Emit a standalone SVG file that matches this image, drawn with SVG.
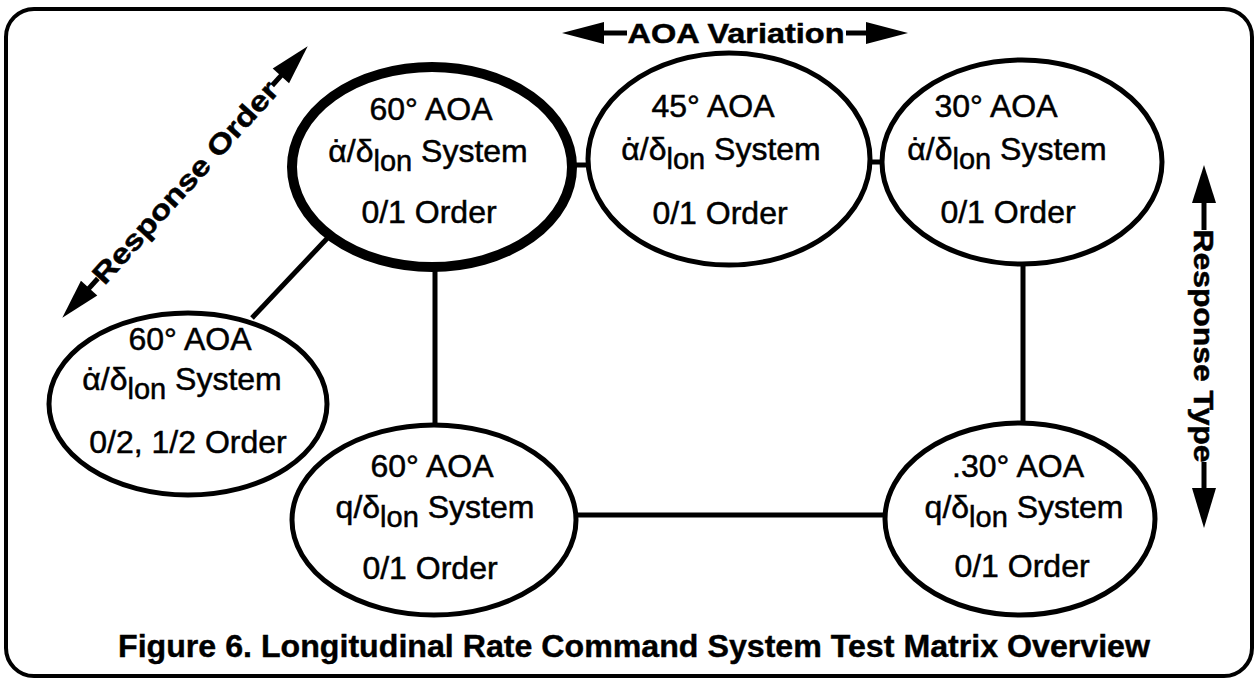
<svg xmlns="http://www.w3.org/2000/svg" width="1256" height="679" viewBox="0 0 1256 679">
<style>
.bg{fill:#fff}
.frame{fill:none;stroke:#000;stroke-width:4}
.node{fill:#fff;stroke:#000;stroke-width:5}
.thick{stroke-width:10}
.conn{stroke:#000;stroke-width:5;fill:none}
.t{font-family:"Liberation Sans",Arial,sans-serif;font-size:32px;text-anchor:middle;fill:#000;stroke:#000;stroke-width:0.5}
.sub{font-size:29px}
.lbl{font-family:"Liberation Sans",Arial,sans-serif;font-weight:bold;font-size:28px;text-anchor:middle;fill:#000;stroke:#000;stroke-width:0.5}
.ttl{font-family:"Liberation Sans",Arial,sans-serif;font-weight:bold;font-size:31px;text-anchor:middle;fill:#000;stroke:#000;stroke-width:0.4}
.ax{stroke:#000;stroke-width:5;fill:none}
.head{fill:#000}
</style>
<rect class="bg" x="0" y="0" width="1256" height="679"/>
<rect class="frame" x="6" y="9" width="1246" height="667" rx="28"/>

<g id="connectors">
<line class="conn" x1="575" y1="165" x2="590" y2="165"/>
<line class="conn" x1="868" y1="162" x2="886" y2="162"/>
<line class="conn" x1="435" y1="270" x2="435" y2="425"/>
<line class="conn" x1="1023" y1="264" x2="1023" y2="423"/>
<line class="conn" x1="576" y1="515" x2="887" y2="515"/>
<line class="conn" x1="252" y1="318" x2="336" y2="229"/>
</g>

<g id="node-60-top">
<ellipse class="node thick" cx="432" cy="167" rx="140" ry="100"/>
<text class="t" x="431" y="120">60° AOA</text>
<text class="t" x="428" y="162">α<tspan dx="-14.6">˙</tspan><tspan dx="3.9">/δ</tspan><tspan class="sub" dy="9">lon</tspan><tspan dy="-9"> System</tspan></text>
<text class="t" x="429" y="223">0/1 Order</text>
</g>

<g id="node-45-top">
<ellipse class="node" cx="729" cy="159" rx="141" ry="106"/>
<text class="t" x="713" y="117">45° AOA</text>
<text class="t" x="721" y="160">α<tspan dx="-14.6">˙</tspan><tspan dx="3.9">/δ</tspan><tspan class="sub" dy="9">lon</tspan><tspan dy="-9"> System</tspan></text>
<text class="t" x="720" y="224">0/1 Order</text>
</g>

<g id="node-30-top">
<ellipse class="node" cx="1022" cy="162" rx="140" ry="102"/>
<text class="t" x="996" y="117">30° AOA</text>
<text class="t" x="1007" y="160">α<tspan dx="-14.6">˙</tspan><tspan dx="3.9">/δ</tspan><tspan class="sub" dy="9">lon</tspan><tspan dy="-9"> System</tspan></text>
<text class="t" x="1008" y="223">0/1 Order</text>
</g>

<g id="node-60-left">
<ellipse class="node" cx="188" cy="404" rx="139" ry="91"/>
<text class="t" x="190" y="350">60° AOA</text>
<text class="t" x="182" y="390">α<tspan dx="-14.6">˙</tspan><tspan dx="3.9">/δ</tspan><tspan class="sub" dy="9">lon</tspan><tspan dy="-9"> System</tspan></text>
<text class="t" x="188" y="453">0/2, 1/2 Order</text>
</g>

<g id="node-60-bottom">
<ellipse class="node" cx="434" cy="520" rx="142" ry="95"/>
<text class="t" x="432" y="477">60° AOA</text>
<text class="t" x="435" y="518">q/δ<tspan class="sub" dy="9">lon</tspan><tspan dy="-9"> System</tspan></text>
<text class="t" x="430" y="579">0/1 Order</text>
</g>

<g id="node-30-bottom">
<ellipse class="node" cx="1020" cy="519" rx="135" ry="96"/>
<text class="t" x="1018" y="477">.30° AOA</text>
<text class="t" x="1024" y="518">q/δ<tspan class="sub" dy="9">lon</tspan><tspan dy="-9"> System</tspan></text>
<text class="t" x="1022" y="577">0/1 Order</text>
</g>

<g id="axis-aoa">
<line class="ax" x1="600" y1="33" x2="627" y2="33"/>
<line class="ax" x1="846" y1="33" x2="870" y2="33"/>
<polygon class="head" points="562,33 604,22 604,44"/>
<polygon class="head" points="908,33 866,22 866,44"/>
<text class="lbl" x="736" y="43" textLength="217" lengthAdjust="spacingAndGlyphs">AOA Variation</text>
</g>

<g id="axis-response-order" transform="translate(185,182) rotate(-47.9)">
<line class="ax" x1="-146" y1="0" x2="-130" y2="0"/>
<line class="ax" x1="130" y1="0" x2="146" y2="0"/>
<polygon class="head" points="-183,0 -143,-11 -143,11"/>
<polygon class="head" points="183,0 143,-11 143,11"/>
<text class="lbl" x="0" y="10" textLength="262" lengthAdjust="spacingAndGlyphs">Response Order</text>
</g>

<g id="axis-response-type" transform="translate(1204,346) rotate(90)">
<line class="ax" x1="-148" y1="0" x2="-116" y2="0"/>
<line class="ax" x1="116" y1="0" x2="146" y2="0"/>
<polygon class="head" points="-181,0 -143,-12 -143,12"/>
<polygon class="head" points="182,0 142,-12 142,12"/>
<text class="lbl" x="0" y="10" textLength="233" lengthAdjust="spacingAndGlyphs">Response Type</text>
</g>

<text class="ttl" x="634" y="657" textLength="1032" lengthAdjust="spacingAndGlyphs">Figure 6. Longitudinal Rate Command System Test Matrix Overview</text>
</svg>
